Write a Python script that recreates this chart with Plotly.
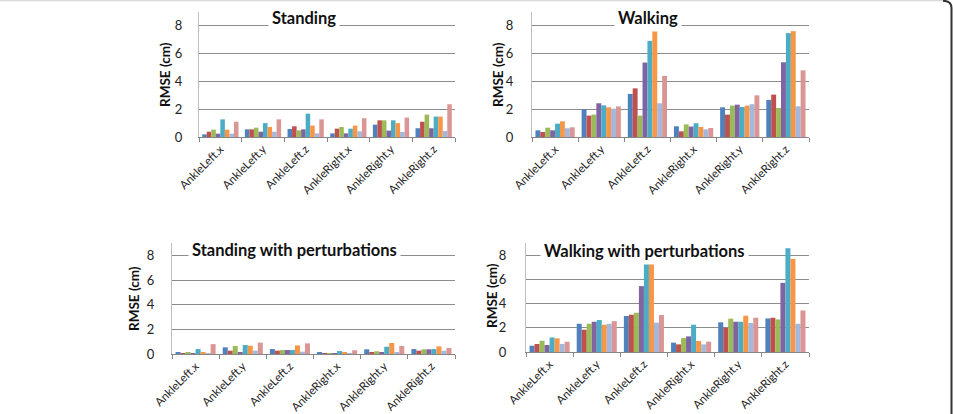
import plotly.graph_objects as go

W, H = 953, 414

categories = ["AnkleLeft.x", "AnkleLeft.y", "AnkleLeft.z", "AnkleRight.x", "AnkleRight.y", "AnkleRight.z"]
series_colors = ["#4F81BD", "#C0504D", "#9BBB59", "#8064A2", "#4BACC6", "#F79646", "#A4B7DD", "#D99694"]

# values per series (8 series), each list over the 6 categories
standing = [
    [0.19, 0.55, 0.58, 0.26, 0.89, 0.63],
    [0.38, 0.55, 0.77, 0.60, 1.20, 1.10],
    [0.53, 0.67, 0.48, 0.72, 1.20, 1.61],
    [0.24, 0.38, 0.55, 0.26, 0.46, 0.63],
    [1.27, 1.00, 1.68, 0.60, 1.20, 1.47],
    [0.53, 0.72, 0.82, 0.82, 1.00, 1.47],
    [0.24, 0.38, 0.26, 0.41, 0.36, 0.43],
    [1.10, 1.27, 1.27, 1.35, 1.40, 2.36],
]
walking = [
    [0.48, 2.00, 3.10, 0.77, 2.14, 2.67],
    [0.36, 1.54, 3.50, 0.41, 1.61, 3.05],
    [0.67, 1.61, 1.54, 0.91, 2.26, 2.09],
    [0.48, 2.43, 5.36, 0.75, 2.33, 5.38],
    [0.96, 2.28, 6.92, 0.99, 2.16, 7.48],
    [1.13, 2.14, 7.64, 0.72, 2.26, 7.62],
    [0.63, 2.04, 2.43, 0.55, 2.36, 2.21],
    [0.70, 2.20, 4.40, 0.65, 3.00, 4.80],
]
standing_pert = [
    [0.10, 0.54, 0.40, 0.13, 0.38, 0.40],
    [0.03, 0.27, 0.27, 0.05, 0.16, 0.27],
    [0.13, 0.65, 0.32, 0.08, 0.22, 0.38],
    [0.05, 0.16, 0.32, 0.08, 0.16, 0.38],
    [0.40, 0.73, 0.32, 0.24, 0.59, 0.40],
    [0.10, 0.67, 0.70, 0.13, 0.89, 0.62],
    [0.08, 0.27, 0.19, 0.05, 0.16, 0.27],
    [0.80, 0.92, 0.86, 0.30, 0.65, 0.49],
]
walking_pert = [
    [0.52, 2.33, 2.97, 0.77, 2.45, 2.77],
    [0.66, 1.84, 3.08, 0.63, 2.00, 2.83],
    [0.93, 2.33, 3.24, 1.15, 2.75, 2.69],
    [0.58, 2.50, 5.44, 1.29, 2.50, 5.71],
    [1.20, 2.64, 7.42, 2.25, 2.50, 8.57],
    [1.13, 2.25, 7.42, 0.91, 3.00, 7.69],
    [0.66, 2.33, 2.42, 0.63, 2.39, 2.33],
    [0.85, 2.55, 3.05, 0.85, 2.83, 3.43],
]
titles = ["Standing", "Walking", "Standing with perturbations", "Walking with perturbations"]
y_ticks = [0, 2, 4, 6, 8]
y_title = "RMSE (cm)"

def px_x(p):
    return p / W

def px_y(p):
    return 1 - p / H

FONT = "Lato, Carlito, 'Open Sans', sans-serif"

# panel geometry in pixels: x0, x1, y_zero, y_top(9), title center, y-title center, tick standoff
panels = [
    dict(data=standing, x0=199, x1=455, yb=137, yt=12, tx=304, ty=18, ax=165, ay=75, so=13),
    dict(data=walking, x0=532, x1=809, yb=137, yt=12, tx=648, ty=18, ax=498, ay=75, so=15),
    dict(data=standing_pert, x0=172, x1=455, yb=354, yt=243, tx=294, ty=250, ax=134, ay=299, so=14),
    dict(data=walking_pert, x0=526, x1=809, yb=352, yt=243, tx=644, ty=251, ax=492, ay=296, so=16),
]

fig = go.Figure()
layout = dict(
    template="none",
    width=W, height=H, autosize=False,
    margin=dict(l=0, r=0, t=0, b=0, pad=0),
    paper_bgcolor="white", plot_bgcolor="white",
    showlegend=False, barmode="group", bargap=0.15, bargroupgap=0,
    font=dict(family=FONT, color="#222222"),
)
annotations = []
shapes = []

for i, p in enumerate(panels):
    k = "" if i == 0 else str(i + 1)
    for s in range(8):
        fig.add_trace(go.Bar(
            x=categories, y=p["data"][s],
            marker=dict(color=series_colors[s], line=dict(width=0)),
            xaxis="x" + k, yaxis="y" + k, offsetgroup=str(s),
            name="Series %d" % (s + 1),
        ))
    layout["xaxis" + k] = dict(
        domain=[px_x(p["x0"]), px_x(p["x1"])], anchor="y" + k, automargin=False,
        type="category", showline=True, linecolor="#868686", linewidth=1,
        ticks="outside", tickson="boundaries", ticklen=4, tickcolor="#868686",
        tickangle=-45, tickfont=dict(size=11.5, family=FONT, color="#222222"),
        showgrid=False, zeroline=False, fixedrange=True,
    )
    layout["yaxis" + k] = dict(
        domain=[px_y(p["yb"]), px_y(p["yt"])], anchor="x" + k, automargin=False,
        range=[0, 9], tickvals=y_ticks, ticktext=[str(t) for t in y_ticks],
        showline=True, linecolor="#BFBFBF", linewidth=1,
        showgrid=True, gridcolor="#8C8C8C", gridwidth=1, zeroline=False,
        ticks="", ticklabelstandoff=p["so"],
        tickfont=dict(size=13, family=FONT, color="#222222"), fixedrange=True,
    )
    annotations.append(dict(
        text="<b>%s</b>" % titles[i], x=px_x(p["tx"]), y=px_y(p["ty"]),
        xref="paper", yref="paper", showarrow=False, xanchor="center", yanchor="middle",
        font=dict(size=16.5, family=FONT, color="#111111"), bgcolor="white", borderpad=3,
    ))
    annotations.append(dict(
        text="<b>%s</b>" % y_title, x=px_x(p["ax"]), y=px_y(p["ay"]),
        xref="paper", yref="paper", showarrow=False, xanchor="center", yanchor="middle",
        textangle=-90, font=dict(size=13.5, family=FONT, color="#111111"),
    ))

# outer frame: light top line and dark rounded right border
shapes.append(dict(type="line", xref="paper", yref="paper",
                   x0=0, x1=px_x(944), y0=px_y(0.5), y1=px_y(0.5),
                   line=dict(color="#D9D9D9", width=1.5)))
path = "M %f,%f Q %f,%f %f,%f L %f,%f" % (
    px_x(943), px_y(0.8), px_x(951.5), px_y(0.8), px_x(951.5), px_y(8), px_x(951.5), px_y(414))
shapes.append(dict(type="path", xref="paper", yref="paper", path=path,
                   line=dict(color="#333333", width=2)))

layout["annotations"] = annotations
layout["shapes"] = shapes
fig.update_layout(**layout)
fig.write_html("out.html")
